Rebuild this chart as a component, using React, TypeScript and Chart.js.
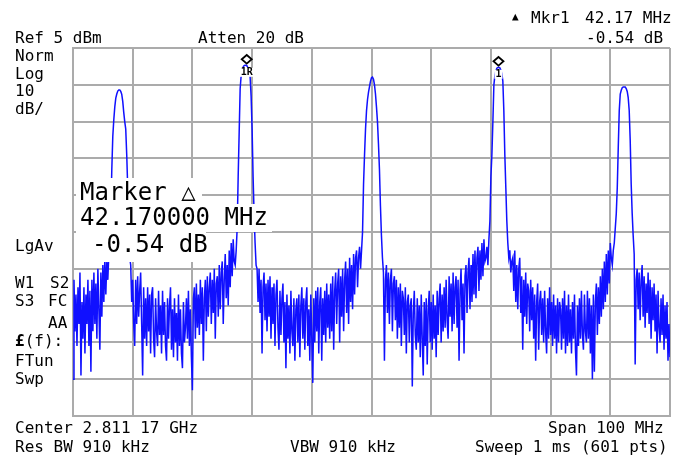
import React, { useEffect, useRef } from "react";
import { Chart, registerables } from "chart.js";

Chart.register(...registerables);

// ---- Axis setup (spectrum analyzer: Ref 5 dBm, 10 dB/div, span 100 MHz, 601 pts) ----
const REF_LEVEL_DBM = 5;
const DB_PER_DIV = 10;
const DIVISIONS = 10;
const SPAN_MHZ = 100;

// ---- Trace values (dBm), left to right ----
const floor0 = [
  -85, -58, -72, -62, -76, -60, -70, -56, -84, -64, -74, -60, -78, -62, -70, -58, -76, -61, -83, -58,
  -72, -56, -70, -59, -74, -55, -66, -77, -56, -68, -54, -64, -52, -62, -53, -58, -51,
];
const peak1 = [
  -50, -40, -28, -19, -14.5, -11, -8.6, -7.5, -6.7, -6.4, -6.4, -6.8, -7.6, -9.5, -12.5, -15, -17, -24,
  -33, -45, -52,
];
const floor1 = [
  -54, -64, -58, -70, -76, -58, -70, -57, -68, -61,
  -56, -70, -84, -60, -74, -63, -76, -60, -72, -62,
  -78, -62, -60, -74, -79, -63, -72, -76, -61, -73,
  -65, -78, -61, -73, -64, -76, -80, -63, -74, -65,
  -60, -77, -66, -79, -63, -75, -67, -80, -62, -76,
  -66, -78, -82, -64, -75, -71, -63, -74, -61, -76,
  -66, -79, -88, -63, -60, -74, -59, -71, -62, -73,
  -58, -70, -60, -80, -63, -58, -72, -57, -68, -60,
  -56, -70, -58, -67, -55, -74, -59, -57, -68, -54,
  -66, -56, -53, -70, -58, -51, -63, -54, -65, -50,
  -60, -48, -57, -47, -53,
];
const peak2 = [
  -54, -50, -44, -30, -18, -6, -2.5, -1, -0.2, 0.2, 0.3, 0.3, 0.1, -0.5, -1.3, -2.8, -8, -17, -30, -40,
  -48, -54,
];
const floor2 = [
  -55, -64, -55, -67, -58, -78, -60, -56, -69, -59,
  -72, -58, -68, -57, -74, -60, -70, -59, -76, -62,
  -58, -71, -77, -61, -73, -63, -59, -75, -64, -82,
  -62, -74, -65, -78, -61, -72, -76, -63, -80, -66,
  -63, -75, -62, -79, -65, -60, -74, -63, -77, -64,
  -60, -76, -66, -80, -62, -74, -86, -63, -75, -61,
  -72, -60, -78, -64, -60, -80, -63, -73, -61, -75,
  -59, -71, -62, -74, -59, -72, -57, -77, -61, -56,
  -70, -59, -55, -75, -57, -68, -55, -72, -58, -53,
  -67, -55, -70, -52, -64, -54, -66, -51, -62, -52,
  -50, -60, -52, -49,
];
const peak3 = [
  -55, -50, -45, -32, -24, -17, -12, -9, -7, -5.5, -4, -3.1, -2.9, -3.5, -5, -7.5, -11, -15, -21, -28,
  -38, -46, -52, -56, -80,
];
const floor3 = [
  -58, -54, -67, -56, -70, -58, -55, -72, -59, -57,
  -69, -58, -74, -60, -71, -59, -76, -61, -63, -73,
  -60, -78, -64, -62, -75, -65, -63, -87, -67, -61,
  -73, -77, -63, -75, -65, -79, -62, -74, -84, -64,
  -76, -63, -81, -66, -61, -75, -64, -77, -62, -74,
  -65, -79, -61, -73, -63, -59, -75, -62, -72, -60,
  -71, -58, -69, -74, -57, -68, -59, -72, -56, -70,
  -60, -57, -71, -58, -80, -61, -55, -69, -59, -78,
  -57, -54, -67, -56, -52, -66, -54, -64, -51, -62,
  -50, -63, -52, -49, -61, -50, -58, -48, -57, -47,
  -53,
];
const peak4 = [
  -52, -49, -54, -47, -42, -30, -24, -15, -5, -2.5, -1.2, -0.5, -0.3, -0.24, -0.4, -1, -2, -4, -12, -24,
  -33, -42, -48, -52, -50, -56, -53,
];
const floor4 = [
  -52, -61, -50, -64, -54, -66, -55, -52, -67, -57,
  -77, -58, -68, -56, -70, -59, -61, -72, -58, -69,
  -60, -74, -62, -80, -64, -59, -77, -64, -61, -73,
  -63, -75, -61, -72, -78, -63, -74, -60, -73, -64,
  -76, -62, -74, -65, -78, -63, -75, -64, -66, -77,
  -63, -74, -61, -78, -65, -76, -62, -75, -66, -78,
  -64, -74, -62, -77, -84, -65, -76, -63, -74, -61,
  -73, -77, -62, -72, -75, -61, -74, -63, -78, -65,
  -85, -62, -83, -64, -59, -73, -60, -70, -57, -68,
  -55, -66, -53, -64, -51, -62, -50, -59, -48,
];
const peak5 = [
  -52, -54, -50, -48, -44, -40, -33, -22, -12, -7.5, -6.5, -5.8, -5.6, -5.6, -5.6, -6, -6.8, -8.5, -12,
  -20, -32, -40, -46, -51, -81, -58,
];
const floor5 = [
  -55, -66, -56, -69, -58, -54, -68, -57, -71, -59,
  -67, -56, -70, -58, -74, -60, -69, -59, -72, -62,
  -78, -61, -71, -75, -63, -73, -62, -77, -65, -74,
  -64, -80, -70, -79,
];

const traceDbm = [
  ...floor0, ...peak1, ...floor1, ...peak2, ...floor2, ...peak3,
  ...floor3, ...peak4, ...floor4, ...peak5, ...floor5,
];

// ---- Markers (frequency offset from center in MHz, level in dBm) ----
const markerFreqMHz = [-20.9, 21.27];
const markerLevelDbm = [0.3, -0.24];
const markerLabels = ["1R", "1"];

const MONO = '"DejaVu Sans Mono", "Liberation Mono", monospace';

const markerPlugin = {
  id: "saMarkers",
  afterDatasetsDraw(chart: any) {
    const { ctx, scales } = chart;
    const xs = scales.x;
    const ys = scales.y;
    ctx.save();
    markerFreqMHz.forEach((f, k) => {
      const px = xs.getPixelForValue(f);
      const py = ys.getPixelForValue(markerLevelDbm[k]);
      ctx.font = `bold 10px ${MONO}`;
      const label = markerLabels[k];
      const w = ctx.measureText(label).width;
      ctx.fillStyle = "#ffffff";
      ctx.fillRect(px - w / 2 - 1, py + 2.5, w + 2, 9);
      ctx.fillStyle = "#000000";
      ctx.textAlign = "center";
      ctx.textBaseline = "top";
      ctx.fillText(label, px, py + 2);
      const cy = py - 6;
      ctx.beginPath();
      ctx.moveTo(px, cy - 4.3);
      ctx.lineTo(px + 5, cy);
      ctx.lineTo(px, cy + 4.3);
      ctx.lineTo(px - 5, cy);
      ctx.closePath();
      ctx.fillStyle = "#ffffff";
      ctx.fill();
      ctx.lineWidth = 1.8;
      ctx.strokeStyle = "#000000";
      ctx.stroke();
    });
    ctx.restore();
  },
};

function T(props: { x: number; y: number; size?: number; children: React.ReactNode }) {
  const size = props.size ?? 16;
  return (
    <div
      style={{
        position: "absolute",
        left: props.x,
        top: props.y,
        fontFamily: MONO,
        fontSize: size,
        lineHeight: `${size}px`,
        whiteSpace: "pre",
        color: "#000",
      }}
    >
      {props.children}
    </div>
  );
}

function Box(props: { x: number; y: number; w: number; h: number; tx: number; ty: number; children: React.ReactNode }) {
  return (
    <div
      style={{
        position: "absolute",
        left: props.x,
        top: props.y,
        width: props.w,
        height: props.h,
        background: "#ffffff",
      }}
    >
      <div
        style={{
          position: "absolute",
          left: props.tx,
          top: props.ty,
          fontFamily: MONO,
          fontSize: 24,
          lineHeight: "24px",
          whiteSpace: "pre",
          color: "#000",
        }}
      >
        {props.children}
      </div>
    </div>
  );
}

export default function App() {
  const canvasRef = useRef<HTMLCanvasElement | null>(null);

  useEffect(() => {
    if (!canvasRef.current) return;
    const n = traceDbm.length;
    const points = traceDbm.map((v, i) => ({ x: -SPAN_MHZ / 2 + (i * SPAN_MHZ) / (n - 1), y: v }));
    const bottom = REF_LEVEL_DBM - DB_PER_DIV * DIVISIONS;
    const gridColor = "#ababab";
    const chart = new Chart(canvasRef.current, {
      type: "line",
      data: {
        datasets: [
          {
            data: points,
            borderColor: "#1010ff",
            borderWidth: 1.5,
            pointRadius: 0,
            tension: 0,
            fill: false,
          },
        ],
      },
      options: {
        responsive: false,
        animation: false,
        devicePixelRatio: 1,
        events: [],
        layout: { padding: { left: 73, top: 48, right: 16, bottom: 43 } },
        plugins: { legend: { display: false }, tooltip: { enabled: false } },
        scales: {
          x: {
            type: "linear",
            min: -SPAN_MHZ / 2,
            max: SPAN_MHZ / 2,
            ticks: { display: false, stepSize: SPAN_MHZ / DIVISIONS },
            grid: { color: gridColor, lineWidth: 2, drawTicks: false },
            border: { color: gridColor, width: 2 },
          },
          y: {
            type: "linear",
            min: bottom,
            max: REF_LEVEL_DBM,
            ticks: { display: false, stepSize: DB_PER_DIV },
            grid: { color: gridColor, lineWidth: 2, drawTicks: false },
            border: { color: gridColor, width: 2 },
          },
        },
      },
      plugins: [markerPlugin],
    });
    return () => chart.destroy();
  }, []);

  return (
    <div style={{ position: "absolute", left: 0, top: 0, width: 686, height: 459, background: "#fff", overflow: "hidden" }}>
      <canvas ref={canvasRef} width={686} height={459} style={{ position: "absolute", left: 0, top: 0, width: 686, height: 459 }} />

      <T x={15} y={30}>Ref 5 dBm</T>
      <T x={198} y={30}>Atten 20 dB</T>
      <T x={512} y={11} size={11}>▲</T>
      <T x={531} y={10}>Mkr1</T>
      <T x={585} y={10}>42.17 MHz</T>
      <T x={586} y={30}>-0.54 dB</T>

      <T x={15} y={48}>Norm</T>
      <T x={15} y={66}>Log</T>
      <T x={15} y={83}>10</T>
      <T x={15} y={101}>dB/</T>
      <T x={15} y={238}>LgAv</T>
      <T x={15} y={275}>W1</T>
      <T x={50} y={275}>S2</T>
      <T x={15} y={293}>S3</T>
      <T x={48} y={293}>FC</T>
      <T x={48} y={315}>AA</T>
      <T x={15} y={333}><b>£</b>(f):</T>
      <T x={15} y={353}>FTun</T>
      <T x={15} y={371}>Swp</T>

      <Box x={76} y={178} w={126} h={26} tx={4} ty={2}>Marker △</Box>
      <Box x={76} y={204} w={196} h={28} tx={4} ty={1}>42.170000 MHz</Box>
      <Box x={76} y={232} w={130} h={30} tx={16} ty={0}>-0.54 dB</Box>

      <T x={15} y={420}>Center 2.811 17 GHz</T>
      <T x={548} y={420}>Span 100 MHz</T>
      <T x={15} y={439}>Res BW 910 kHz</T>
      <T x={290} y={439}>VBW 910 kHz</T>
      <T x={475} y={439}>Sweep 1 ms (601 pts)</T>
    </div>
  );
}
